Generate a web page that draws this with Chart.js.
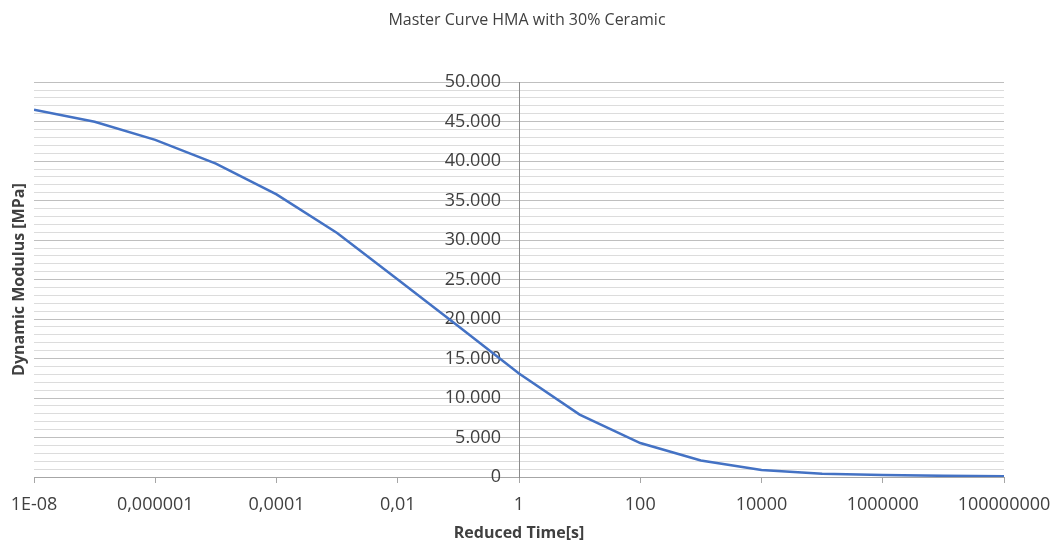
<!DOCTYPE html>
<html>
<head>
<meta charset="utf-8">
<title>Master Curve HMA with 30% Ceramic</title>
<script src="https://cdn.jsdelivr.net/npm/chart.js@4"></script>
<style>
  body { margin: 0; background: #fff; }
</style>
</head>
<body>
<canvas id="masterCurveChart" width="1054" height="543"></canvas>
<script>
// reduced time [s], one point per decade
var reducedTime = [1e-8, 1e-7, 1e-6, 1e-5, 1e-4, 1e-3, 1e-2, 1e-1, 1, 10, 100, 1000, 1e4, 1e5, 1e6, 1e7, 1e8];
// dynamic modulus [MPa]
var dynamicModulus = [46500, 45000, 42700, 39700, 35800, 30900, 25000, 19100, 13100, 7900, 4300, 2100, 900, 400, 250, 150, 100];

// x tick positions and the labels Excel printed for them
var xTickValues = [1e-8, 1e-6, 1e-4, 1e-2, 1, 100, 1e4, 1e6, 1e8];
var xTickLabels = ['1E-08', '0,000001', '0,0001', '0,01', '1', '100', '10000', '1000000', '100000000'];

var fontFamily = "'Open Sans', 'Liberation Sans', sans-serif";

var points = reducedTime.map(function (t, i) {
    return { x: t, y: dynamicModulus[i] };
});

// 50000 -> "50.000"
function formatModulus(v) {
    if (v === 0) return '0';
    return (v / 1000) + '.000';
}

var ctx = document.getElementById('masterCurveChart').getContext('2d');

window.masterChart = new Chart(ctx, {
    type: 'line',
    data: {
        datasets: [{
            label: 'Dynamic Modulus',
            data: points,
            borderColor: '#4472C4',
            backgroundColor: '#4472C4',
            borderWidth: 2.5,
            pointRadius: 0,
            tension: 0
        }]
    },
    options: {
        responsive: false,
        animation: false,
        layout: {
            padding: { left: 0, right: 0, top: 0, bottom: 0 }
        },
        plugins: {
            legend: { display: false },
            tooltip: { enabled: false },
            title: {
                display: true,
                text: 'Master Curve HMA with 30% Ceramic',
                color: '#404040',
                font: { family: fontFamily, size: 16, weight: 'normal' },
                padding: { top: 11, bottom: 52 }
            }
        },
        scales: {
            x: {
                type: 'logarithmic',
                min: 1e-8,
                max: 1e8,
                afterBuildTicks: function (scale) {
                    scale.ticks = xTickValues.map(function (v) { return { value: v }; });
                },
                afterFit: function (scale) {
                    // keep the plot area like the original
                    scale.paddingLeft = 0;
                    scale.paddingRight = 50;
                    scale.height = 66;
                },
                ticks: {
                    autoSkip: false,
                    maxRotation: 0,
                    padding: 11,
                    color: '#404040',
                    font: { family: fontFamily, size: 18 },
                    callback: function (value, index) {
                        return xTickLabels[index];
                    }
                },
                grid: {
                    drawOnChartArea: false,
                    tickLength: 6,
                    color: '#a6a6a6'
                },
                border: { color: '#a6a6a6' },
                title: {
                    display: true,
                    text: 'Reduced Time[s]',
                    color: '#404040',
                    font: { family: fontFamily, size: 16, weight: 'bold' },
                    padding: { top: 8, bottom: 0 }
                }
            },
            y: {
                type: 'linear',
                position: { x: 1 },
                min: 0,
                max: 50000,
                afterFit: function (scale) {
                    scale.paddingTop = 0;
                    scale.paddingBottom = 0;
                },
                ticks: {
                    stepSize: 1000,
                    autoSkip: false,
                    color: '#404040',
                    font: { family: fontFamily, size: 18 },
                    callback: function (value) {
                        // em space keeps the label clear of the axis line
                        return value % 5000 === 0 ? formatModulus(value) + '\u2003' : '';
                    }
                },
                grid: {
                    tickLength: 0,
                    color: function (c) {
                        return c.tick && c.tick.value % 5000 === 0 ? '#bfbfbf' : '#dcdcdc';
                    }
                },
                border: { color: '#8c8c8c' }
            },
            yTitle: {
                type: 'linear',
                position: 'left',
                display: true,
                afterFit: function (scale) {
                    scale.width = 34;
                },
                ticks: { display: false },
                grid: { display: false },
                border: { display: false },
                title: {
                    display: true,
                    text: 'Dynamic Modulus [MPa]',
                    color: '#404040',
                    font: { family: fontFamily, size: 16, weight: 'bold' },
                    padding: { top: 10, bottom: 0 }
                }
            }
        }
    }
});
</script>
</body>
</html>
